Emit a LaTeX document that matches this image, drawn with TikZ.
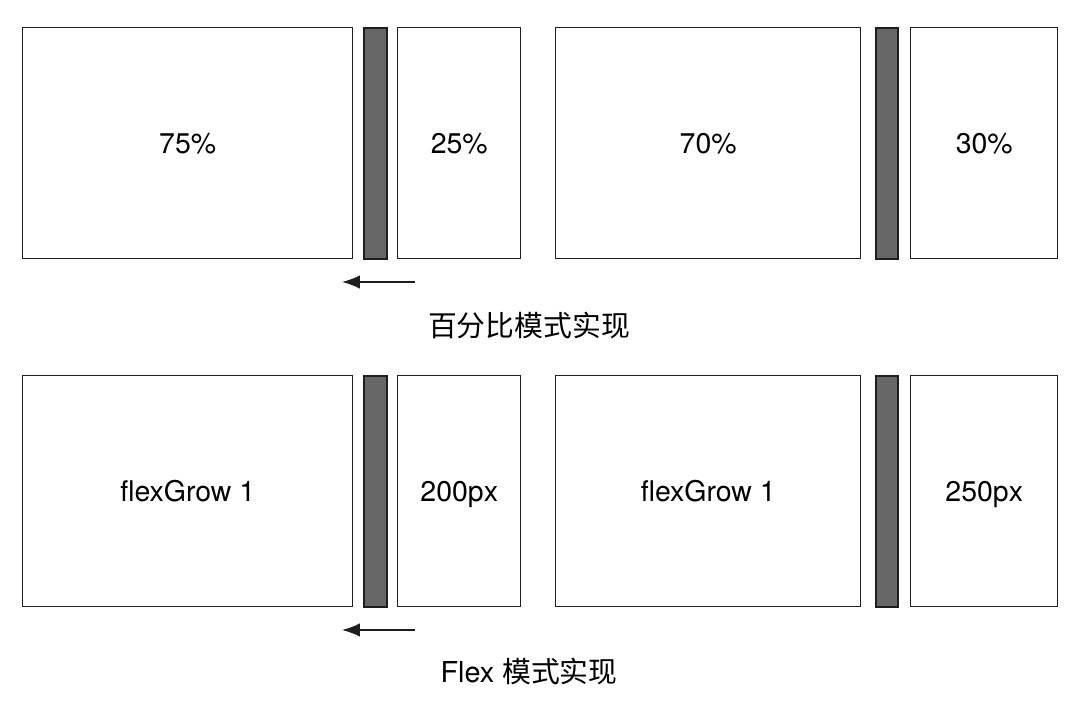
\documentclass[tikz,border=0pt]{standalone}
\usepackage{fontspec}
\setmainfont{TeX Gyre Heros}
\newfontfamily\cjk{Noto Sans CJK SC}
\usepackage{xcolor}
\usetikzlibrary{arrows.meta}

\definecolor{edgegray}{HTML}{1E1E1E}
\definecolor{bargray}{HTML}{676767}

\tikzset{
  pane/.style={draw=edgegray, line width=0.85pt, anchor=north west, inner sep=0pt,
    minimum width=#1, minimum height=4.62cm, font=\fontsize{16.2}{19}\selectfont,
    text height=0.41cm, text depth=0cm},
  splitter/.style={draw=edgegray, fill=bargray, line width=1.1pt, anchor=north west,
    inner sep=0pt, minimum width=#1, minimum height=4.62cm},
  caption/.style={font=\fontsize{16.4}{19}\selectfont},
  drag/.style={-{Latex[length=0.36cm, width=0.27cm]}, line width=0.85pt, draw=edgegray}
}

\begin{document}
\begin{tikzpicture}[x=0.02cm, y=-0.02cm]
    \useasboundingbox (0,0) rectangle (1080,705);

    % Percentage layout
    \node[pane=6.6cm]  (pa) at (22,27)  {75\%};
    \node[splitter=0.46cm] (pbar1) at (363,27) {};
    \node[pane=2.46cm] (pb) at (397,27) {25\%};
    \node[pane=6.1cm]  (pc) at (555,27) {70\%};
    \node[splitter=0.44cm] (pbar2) at (875,27) {};
    \node[pane=2.94cm] (pd) at (910,27) {30\%};

    % Drag direction
    \coordinate (pfrom) at (415,282);
    \coordinate (pto) at (342,282);
    \draw[drag] (pfrom) -- (pto);

    \node[caption] (ptitle) at (529,325) {\cjk 百分比模式实现};

    % Flex layout
    \node[pane=6.6cm]  (fa) at (22,375)  {flexGrow 1};
    \node[splitter=0.46cm] (fbar1) at (363,375) {};
    \node[pane=2.46cm] (fb) at (397,375) {200px};
    \node[pane=6.1cm]  (fc) at (555,375) {flexGrow 1};
    \node[splitter=0.44cm] (fbar2) at (875,375) {};
    \node[pane=2.94cm] (fd) at (910,375) {250px};

    % Drag direction
    \coordinate (ffrom) at (415,630);
    \coordinate (fto) at (342,630);
    \draw[drag] (ffrom) -- (fto);

    \node[caption] (ftitle) at (529,671) {Flex {\cjk 模式实现}};
\end{tikzpicture}
\end{document}
